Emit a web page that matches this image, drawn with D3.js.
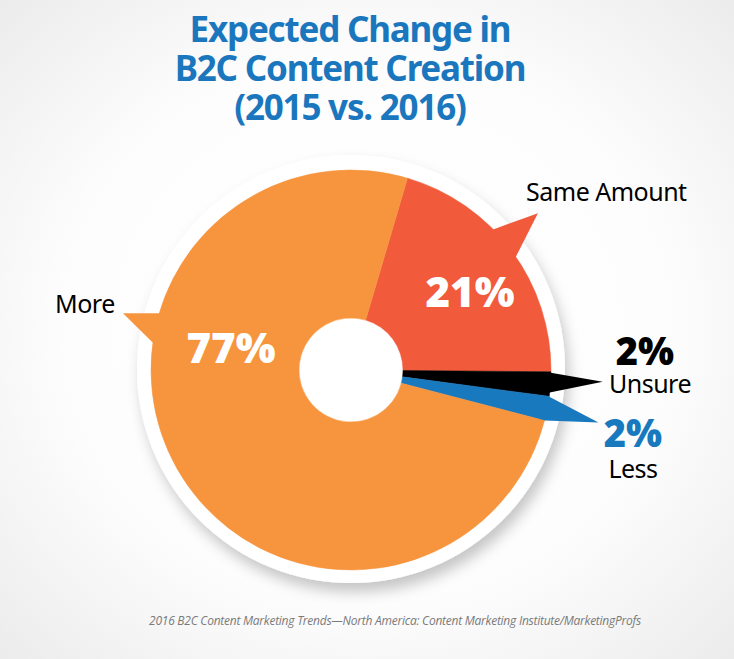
<!DOCTYPE html>
<html>
<head>
<meta charset="utf-8">
<script src="https://cdn.jsdelivr.net/npm/d3@7"></script>
<style>
  html, body { margin: 0; padding: 0; background: #fff; }
  svg { display: block; }
</style>
</head>
<body>
<div id="chart"></div>
<script>
const categories = ["Same Amount", "Unsure", "Less", "More"];
const values = [21, 2, 2, 77];
const valueLabels = ["21%", "2%", "2%", "77%"];
const colors = ["#F15A3A", "#000000", "#1879BE", "#F7953E"];
const titleLines = ["Expected Change in", "B2C Content Creation", "(2015 vs. 2016)"];
const source = "2016 B2C Content Marketing Trends\u2014North America: Content Marketing Institute/MarketingProfs";

const width = 734, height = 659;
const cx = 351, cy = 370, outerR = 200, innerR = 52, ringR = 214;
const deg = Math.PI / 180;

// callout tails: base angles on the rim and tip (angle, radius), in degrees clockwise from top
const tails = {
    "Same Amount": { a1: 44.5, a2: 56.5, tipA: 50, tipR: 244 },
    "Unsure": { a1: 90.5, a2: 97, tipA: 92.7, tipR: 252 },
    "Less": { a1: 97, a2: 105, tipA: 102, tipR: 253 },
    "More": { a1: 276.5, a2: 287, tipA: 284, tipR: 235 }
};

const svg = d3.select("#chart").append("svg")
    .attr("width", width)
    .attr("height", height);

const defs = svg.append("defs");
const bg = defs.append("radialGradient").attr("id", "bg")
    .attr("cx", "50%").attr("cy", "50%").attr("r", "75%");
bg.append("stop").attr("offset", "0%").attr("stop-color", "#ffffff");
bg.append("stop").attr("offset", "55%").attr("stop-color", "#fdfdfd");
bg.append("stop").attr("offset", "100%").attr("stop-color", "#e9e9e9");

const shadow = defs.append("filter").attr("id", "shadow")
    .attr("x", "-20%").attr("y", "-20%").attr("width", "140%").attr("height", "140%");
shadow.append("feDropShadow")
    .attr("dx", 4).attr("dy", 9)
    .attr("stdDeviation", 7)
    .attr("flood-color", "#000")
    .attr("flood-opacity", 0.22);

svg.append("rect")
    .attr("width", width).attr("height", height)
    .attr("fill", "url(#bg)");

// title
svg.append("text")
    .attr("text-anchor", "middle")
    .attr("fill", "#1B77BD")
    .attr("font-family", "'Noto Sans', sans-serif")
    .attr("font-weight", "bold")
    .attr("font-size", 35)
    .attr("letter-spacing", -1.2)
    .selectAll("tspan")
    .data(titleLines)
    .join("tspan")
    .attr("x", 350)
    .attr("y", (d, i) => 42 + i * 39)
    .text(d => d);

// white ring behind the pie
svg.append("circle")
    .attr("cx", cx).attr("cy", cy - 1)
    .attr("r", ringR)
    .attr("fill", "#fff")
    .attr("filter", "url(#shadow)");

const pie = d3.pie()
    .sort(null)
    .startAngle(16.4 * deg)
    .endAngle(16.4 * deg + 2 * Math.PI);

const arcs = pie(values).map((d, i) => Object.assign(d, { name: categories[i], color: colors[i], label: valueLabels[i] }));

const arc = d3.arc().innerRadius(innerR).outerRadius(outerR);

const g = svg.append("g").attr("transform", `translate(${cx},${cy})`);

const polar = (a, r) => [Math.sin(a * deg) * r, -Math.cos(a * deg) * r];

g.selectAll("path.tail")
    .data(arcs)
    .join("path")
    .attr("class", "tail")
    .attr("fill", d => d.color)
    .attr("d", d => {
        const t = tails[d.name];
        return "M" + [polar(t.a1, outerR - 6), polar(t.tipA, t.tipR), polar(t.a2, outerR - 6)].join("L") + "Z";
    });

g.selectAll("path.slice")
    .data(arcs)
    .join("path")
    .attr("class", "slice")
    .attr("fill", d => d.color)
    .attr("stroke", d => d.color)
    .attr("stroke-width", 0.5)
    .attr("d", arc);

// percentages inside the two big slices
const inside = { "Same Amount": [470, 307], "More": [231, 363] };
svg.selectAll("text.inside")
    .data(arcs.filter(d => inside[d.name]))
    .join("text")
    .attr("class", "inside")
    .attr("x", d => inside[d.name][0])
    .attr("y", d => inside[d.name][1])
    .attr("text-anchor", "middle")
    .attr("fill", "#fff")
    .attr("font-family", "'Open Sans', sans-serif")
    .attr("font-weight", "800")
    .attr("font-size", 42)
    .text(d => d.label);

// small-slice percentages outside
const outside = { "Unsure": [645, 365, "#000"], "Less": [633, 447, "#1879BE"] };
svg.selectAll("text.outside")
    .data(arcs.filter(d => outside[d.name]))
    .join("text")
    .attr("class", "outside")
    .attr("x", d => outside[d.name][0])
    .attr("y", d => outside[d.name][1])
    .attr("text-anchor", "middle")
    .attr("fill", d => outside[d.name][2])
    .attr("font-family", "'Open Sans', sans-serif")
    .attr("font-weight", "800")
    .attr("font-size", 38)
    .text(d => d.label);

// category names
const names = {
    "Same Amount": [526, 201, "start"],
    "More": [55, 313, "start"],
    "Unsure": [650, 393, "middle"],
    "Less": [633, 478, "middle"]
};
svg.selectAll("text.name")
    .data(arcs)
    .join("text")
    .attr("class", "name")
    .attr("x", d => names[d.name][0])
    .attr("y", d => names[d.name][1])
    .attr("text-anchor", d => names[d.name][2])
    .attr("fill", "#000")
    .attr("font-family", "'Noto Sans', sans-serif")
    .attr("font-size", 25)
    .attr("letter-spacing", -0.5)
    .text(d => d.name);

svg.append("text")
    .attr("x", 395)
    .attr("y", 625)
    .attr("text-anchor", "middle")
    .attr("fill", "#7a7a7a")
    .attr("font-family", "'Open Sans', sans-serif")
    .attr("font-style", "italic")
    .attr("font-size", 12)
    .attr("letter-spacing", -0.25)
    .text(source);
</script>
</body>
</html>
